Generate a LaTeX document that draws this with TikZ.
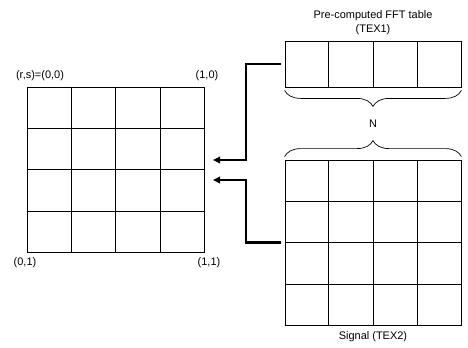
\documentclass[tikz,border=0pt]{standalone}
\usepackage{fontspec}
\setmainfont{Liberation Sans}
\usetikzlibrary{positioning, arrows.meta, calc, decorations.pathreplacing}
\tikzset{
  gridbox/.style={draw, line width=0.8pt, inner sep=0pt},
  feed/.style={line width=2.2pt, -{Triangle[length=7bp, width=6.5bp]}},
  curly/.style={decorate, decoration={brace, amplitude=16bp}, line width=0.7pt},
}

\begin{document}
\begin{tikzpicture}[x=1bp, y=-1bp, font=\fontsize{11}{14}\selectfont]
  \useasboundingbox (0,0) rectangle (468,347);
  % the texture and its two inputs
  \node[gridbox, minimum width=177bp, minimum height=165bp] (tex) at (115.5,169.5) {};
  \node[gridbox, minimum width=176bp, minimum height=46bp] (fft) at (373,64) {};
  \node[gridbox, minimum width=176bp, minimum height=165bp] (sig) at (373,242.5) {};
  \foreach \i in {1,2,3}{
    \foreach \g in {tex,fft,sig}
      \draw[line width=0.8pt] ($(\g.north west)!\i/4!(\g.north east)$) -- ($(\g.south west)!\i/4!(\g.south east)$);
    \foreach \g in {tex,sig}
      \draw[line width=0.8pt] ($(\g.north west)!\i/4!(\g.south west)$) -- ($(\g.north east)!\i/4!(\g.south east)$);
  }
  % labels
  \node[above=2bp of fft, align=center] (fftlab) {Pre-computed FFT table\\(TEX1)};
  \node[below=3bp of sig] (siglab) {Signal (TEX2)};
  \node (c00) at (40,76) {(r,s)=(0,0)};
  \node (c10) at (207,76) {(1,0)};
  \node (c01) at (25,263) {(0,1)};
  \node (c11) at (209,263) {(1,1)};
  % braces and N
  \draw[curly] ([yshift=-3bp]fft.south east) -- ([yshift=-3bp]fft.south west);
  \draw[curly] ([yshift=3bp]sig.north west) -- ([yshift=3bp]sig.north east);
  \node (n) at (373,124) {N};
  % feeds into the texture
  \coordinate (in1) at (213,160);
  \coordinate (in2) at (213,180);
  \draw[feed] ([xshift=-4bp]fft.west) -- ++(-35,0) |- (in1);
  \draw[feed] ([xshift=-4bp]sig.west) -- ++(-35,0) |- (in2);
\end{tikzpicture}
\end{document}
